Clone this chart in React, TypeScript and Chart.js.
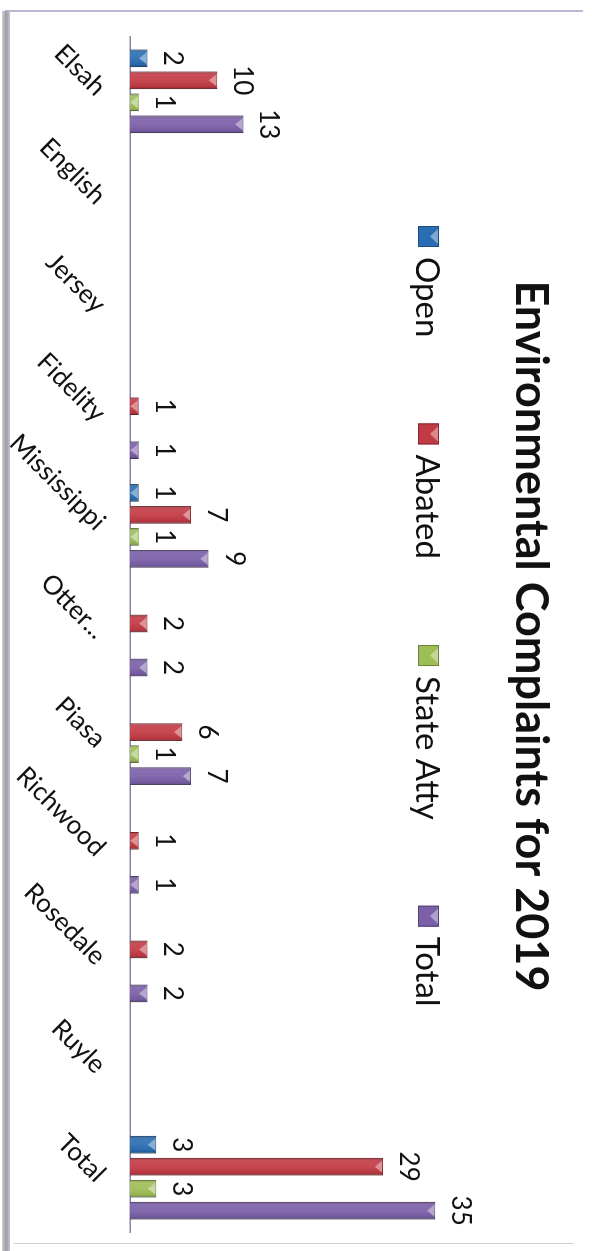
import React, { useEffect, useRef } from "react";
import { Chart, registerables } from "chart.js";

Chart.register(...registerables);

const categories = ["Elsah", "English", "Jersey", "Fidelity", "Mississippi", "Otter...", "Piasa", "Richwood", "Rosedale", "Ruyle", "Total"];
const openValues = [2, null, null, null, 1, null, null, null, null, null, 3];
const abatedValues = [10, null, null, 1, 7, 2, 6, 1, 2, null, 29];
const stateAttyValues = [1, null, null, null, 1, null, 1, null, null, null, 3];
const totalValues = [13, null, null, 1, 9, 2, 7, 1, 2, null, 35];
const seriesNames = ["Open", "Abated", "State Atty", "Total"];
const seriesColors = ["#2a6db3", "#c23a44", "#9dbd55", "#7b5fa8"];
const chartTitle = "Environmental Complaints for 2019";

function mix(hex: string, amt: number): string {
  const n = parseInt(hex.slice(1), 16);
  let r = (n >> 16) & 255, g = (n >> 8) & 255, b = n & 255;
  const t = amt > 0 ? 255 : 0;
  const a = Math.abs(amt);
  r = Math.round(r + (t - r) * a);
  g = Math.round(g + (t - g) * a);
  b = Math.round(b + (t - b) * a);
  return `rgb(${r},${g},${b})`;
}

const bevelPlugin = {
  id: "bevel",
  afterDatasetsDraw(chart: any) {
    const ctx = chart.ctx;
    ctx.save();
    chart.data.datasets.forEach((ds: any, i: number) => {
      const meta = chart.getDatasetMeta(i);
      meta.data.forEach((el: any, j: number) => {
        if (ds.data[j] == null) return;
        const { x, y, base, width } = el.getProps(["x", "y", "base", "width"], true);
        const l = x - width / 2;
        const r = x + width / 2;
        const g = ctx.createLinearGradient(l, 0, r, 0);
        g.addColorStop(0, "rgba(0,0,0,0.28)");
        g.addColorStop(0.18, "rgba(255,255,255,0.10)");
        g.addColorStop(0.55, "rgba(255,255,255,0.06)");
        g.addColorStop(0.85, "rgba(0,0,0,0.05)");
        g.addColorStop(1, "rgba(0,0,0,0.32)");
        ctx.fillStyle = g;
        ctx.fillRect(l, y, width, base - y);
        const h = Math.min(width * 0.42, base - y - 1);
        ctx.beginPath();
        ctx.moveTo(l + 3, y + 1);
        ctx.lineTo(r - 3, y + 1);
        ctx.lineTo(x, y + 1 + h);
        ctx.closePath();
        ctx.fillStyle = mix(ds.backgroundColor, 0.45);
        ctx.fill();
      });
    });
    ctx.restore();
  },
};

const labelPlugin = {
  id: "valueLabels",
  afterDatasetsDraw(chart: any) {
    const ctx = chart.ctx;
    ctx.save();
    ctx.font = "26px Lato";
    ctx.fillStyle = "#111";
    ctx.textAlign = "center";
    ctx.textBaseline = "alphabetic";
    chart.data.datasets.forEach((ds: any, i: number) => {
      const meta = chart.getDatasetMeta(i);
      meta.data.forEach((el: any, j: number) => {
        const v = ds.data[j];
        if (v == null) return;
        ctx.fillText(String(v), el.x, el.y - 17);
      });
    });
    ctx.restore();
  },
};

const headerPlugin = {
  id: "header",
  afterDraw(chart: any) {
    const ctx = chart.ctx;
    ctx.save();
    ctx.fillStyle = "#111";
    ctx.textBaseline = "alphabetic";
    ctx.textAlign = "center";
    ctx.font = "bold 45px Lato";
    ctx.fillText(chartTitle, 636, 76);
    ctx.font = "33px Lato";
    ctx.textAlign = "left";
    let u = 226;
    chart.data.datasets.forEach((ds: any) => {
      const c = ds.backgroundColor;
      ctx.fillStyle = c;
      ctx.fillRect(u, 153, 21, 21);
      ctx.beginPath();
      ctx.moveTo(u + 3, 154);
      ctx.lineTo(u + 18, 154);
      ctx.lineTo(u + 10.5, 162);
      ctx.closePath();
      ctx.fillStyle = mix(c, 0.4);
      ctx.fill();
      ctx.strokeStyle = mix(c, -0.3);
      ctx.lineWidth = 1;
      ctx.strokeRect(u + 0.5, 153.5, 20, 20);
      ctx.fillStyle = "#111";
      ctx.fillText(ds.label, u + 31, 176);
      u += 31 + ctx.measureText(ds.label).width + 86;
    });
    ctx.restore();
  },
};

export default function App() {
  const ref = useRef<HTMLCanvasElement>(null);
  useEffect(() => {
    if (!ref.current) return;
    const seriesData = [openValues, abatedValues, stateAttyValues, totalValues];
    const chart = new Chart(ref.current, {
      type: "bar",
      data: {
        labels: categories,
        datasets: seriesNames.map((name, i) => ({
          label: name,
          data: seriesData[i],
          backgroundColor: seriesColors[i],
          borderColor: mix(seriesColors[i], -0.3),
          borderWidth: 1,
          barPercentage: 0.8,
          categoryPercentage: 0.81,
        })),
      },
      options: {
        responsive: false,
        animation: false,
        layout: { padding: { top: 113, left: 37, right: 19, bottom: 0 } },
        plugins: {
          legend: { display: false },
          title: { display: false },
          tooltip: { enabled: false },
        },
        scales: {
          x: {
            grid: { display: false, drawTicks: false },
            border: { display: true, color: "#8c84a4", width: 1.5 },
            ticks: {
              minRotation: 45,
              maxRotation: 45,
              autoSkip: false,
              color: "#111",
              padding: 18,
              font: { family: "Lato", size: 26 },
            },
            afterFit: (s: any) => {
              s.height = 130;
            },
          },
          y: { display: false, min: 0, max: 40 },
        },
      } as any,
      plugins: [bevelPlugin, labelPlugin, headerPlugin],
    });
    return () => chart.destroy();
  }, []);

  return (
    <div style={{ position: "fixed", left: 0, top: 0, width: 592, height: 1251, background: "#fff", overflow: "hidden" }}>
      <div style={{ position: "absolute", left: 5, top: 10, width: 578, height: 2, background: "#b8b8d2" }} />
      <div style={{ position: "absolute", left: 2, top: 11, width: 8, height: 1240, background: "linear-gradient(to right, #d0d0d4, #9c9ca8, #c4c4cc)" }} />
      <div style={{ position: "absolute", left: 14, top: 1243, width: 560, height: 1, background: "#cfcfcf" }} />
      <div
        style={{
          position: "absolute",
          left: 0,
          top: 0,
          width: 1251,
          height: 592,
          transformOrigin: "0 0",
          transform: "translate(592px, 0) rotate(90deg)",
        }}
      >
        <canvas ref={ref} width={1251} height={592} style={{ display: "block", width: 1251, height: 592 }} />
      </div>
    </div>
  );
}
